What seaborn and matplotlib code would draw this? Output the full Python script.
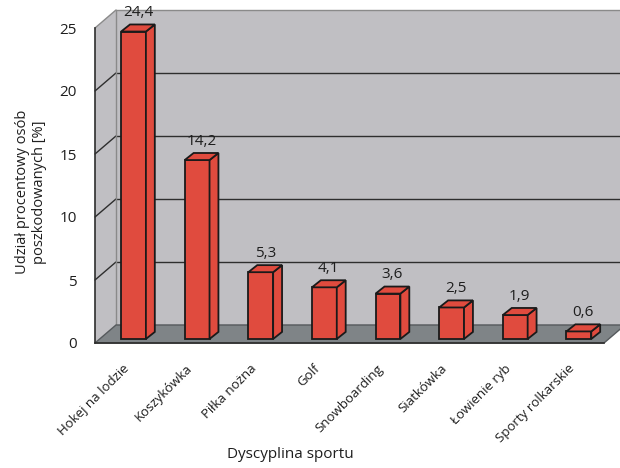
import matplotlib
matplotlib.use("Agg")
import matplotlib.pyplot as plt
import seaborn as sns
import pandas as pd
from matplotlib.patches import Polygon

# data
sports = ["Hokej na lodzie", "Koszykówka", "Piłka nożna", "Golf",
          "Snowboarding", "Siatkówka", "Łowienie ryb", "Sporty rolkarskie"]
injured_pct = [24.4, 14.2, 5.3, 4.1, 3.6, 2.5, 1.9, 0.6]
y_ticks = [0, 5, 10, 15, 20, 25]

df = pd.DataFrame({"Dyscyplina": sports, "Udzial": injured_pct})

sns.set_theme(style="white")
plt.rcParams["font.family"] = ["Open Sans", "DejaVu Sans"]

# 3d look (in data units)
WALL_DX, WALL_DY = 0.33, 1.43      # depth of walls / floor
BAR_SHIFT, BAR_LIFT = 0.105, 0.32  # where the bar front sits inside the floor
SIDE_DX, SIDE_DY = 0.14, 0.56      # bar depth
BAR_W = 0.39

red = "#e04b3e"
wall_col = "#c0bfc3"
floor_col = "#7f8487"
line_col = "#2e2e2e"
text_col = "#1e1e1e"

fig = plt.figure(figsize=(6.2, 4.68), dpi=100)
fig.patch.set_facecolor("white")
ax = fig.add_axes([95 / 620, 1 - 343 / 468, 509 / 620, 315 / 468])
ax.set_facecolor("none")

n = len(sports)
x0, x1 = -0.5, n - 0.5
ymax = y_ticks[-1]

# back wall
ax.add_patch(Polygon([(x0 + WALL_DX, WALL_DY), (x1 + 2, WALL_DY),
                      (x1 + 2, ymax + WALL_DY), (x0 + WALL_DX, ymax + WALL_DY)],
                     closed=True, facecolor=wall_col, edgecolor="none",
                     zorder=0, clip_on=False))
# left wall
ax.add_patch(Polygon([(x0, 0), (x0 + WALL_DX, WALL_DY),
                      (x0 + WALL_DX, ymax + WALL_DY), (x0, ymax)],
                     closed=True, facecolor=wall_col, edgecolor="none",
                     zorder=0, clip_on=False))
# floor
ax.add_patch(Polygon([(x0, 0), (x1, 0), (x1 + WALL_DX, WALL_DY), (x0 + WALL_DX, WALL_DY)],
                     closed=True, facecolor=floor_col, edgecolor="#55595c", lw=1,
                     zorder=1, clip_on=False))

# gridlines on the walls
for v in y_ticks[1:]:
    c = line_col if v < ymax else "#8a8a8a"
    ax.plot([x0, x0 + WALL_DX], [v, v + WALL_DY], color=c, lw=1, zorder=0.5, clip_on=False)
    ax.plot([x0 + WALL_DX, x1 + 2], [v + WALL_DY, v + WALL_DY], color=c, lw=1,
            zorder=0.5, clip_on=False)
ax.plot([x0 + WALL_DX, x0 + WALL_DX], [WALL_DY, ymax + WALL_DY], color="#8a8a8a",
        lw=1, zorder=0.5, clip_on=False)

# bars (front faces) via seaborn
sns.barplot(data=df, x="Dyscyplina", y="Udzial", color=red, width=BAR_W,
            saturation=1, edgecolor="#1a1a1a", linewidth=1.3, ax=ax, zorder=3)

for p, val in zip(ax.patches[-n:], injured_pct):
    p.set_x(p.get_x() + BAR_SHIFT)
    p.set_y(BAR_LIFT)
    p.set_clip_on(False)
    bx, by, bw, bh = p.get_x(), p.get_y(), p.get_width(), p.get_height()
    side = [(bx + bw, by), (bx + bw + SIDE_DX, by + SIDE_DY),
            (bx + bw + SIDE_DX, by + bh + SIDE_DY), (bx + bw, by + bh)]
    top = [(bx, by + bh), (bx + SIDE_DX, by + bh + SIDE_DY),
           (bx + bw + SIDE_DX, by + bh + SIDE_DY), (bx + bw, by + bh)]
    for poly in (side, top):
        ax.add_patch(Polygon(poly, closed=True, facecolor=red, edgecolor="#1a1a1a",
                             lw=1.3, zorder=3, clip_on=False))
    ax.annotate(f"{val:.1f}".replace(".", ","),
                (bx + (bw + SIDE_DX) / 2, by + bh + SIDE_DY),
                xytext=(0, 3), textcoords="offset points", annotation_clip=False,
                ha="center", va="bottom", fontsize=11, color=text_col, zorder=5)

ax.set_xlim(x0, x1)
ax.set_ylim(0, ymax)
ax.set_yticks(y_ticks)
ax.set_yticklabels([str(t) for t in y_ticks], fontsize=11, color=text_col)
ax.set_xticks(range(n))
ax.set_xticklabels(sports, rotation=45, ha="right", va="center",
                   rotation_mode="anchor", fontsize=9.5, color=text_col)
ax.set_xticks([i - 0.5 for i in range(n + 1)], minor=True)
ax.tick_params(axis="x", which="major", length=0, pad=17)
ax.tick_params(axis="x", which="minor", length=7, width=1, color=line_col, direction="out")
ax.tick_params(axis="y", length=7, width=1, color=line_col, direction="out", pad=6)
ax.set_xlabel("")
ax.set_ylabel("")

for s in ("top", "right"):
    ax.spines[s].set_visible(False)
for s in ("left", "bottom"):
    ax.spines[s].set_color(line_col)
    ax.spines[s].set_linewidth(1.2)
    ax.spines[s].set_zorder(2)

fig.text(31 / 620, 1 - 192 / 468, "Udział procentowy osób\nposzkodowanych [%]",
         rotation=90, ha="center", va="center", multialignment="center",
         fontsize=10.5, color=text_col, linespacing=1.1)
fig.text(290 / 620, 1 - 455 / 468, "Dyscyplina sportu", ha="center", va="center",
         fontsize=11, color=text_col)

fig.savefig("out.png", dpi=100)
